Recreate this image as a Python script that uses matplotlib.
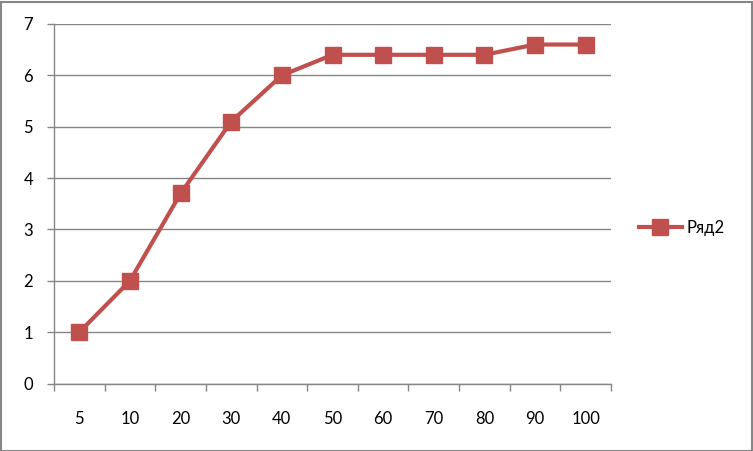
import matplotlib.pyplot as plt
import numpy as np
from matplotlib.patches import Rectangle

# datos
categorias = ['5', '10', '20', '30', '40', '50', '60', '70', '80', '90', '100']
valores = [1, 2, 3.7, 5.1, 6.0, 6.4, 6.4, 6.4, 6.4, 6.6, 6.6]
nombre_serie = 'Ряд2'

plt.rcParams['font.family'] = ['Lato', 'DejaVu Sans']

W, H = 753, 451
fig = plt.figure(figsize=(W / 100, H / 100), dpi=100)
ax = fig.add_axes([54 / W, 1 - 383.5 / H, (611 - 54) / W, (383.5 - 24) / H])

rojo = '#C0504D'
gris = '#868686'

x = np.arange(len(categorias))
ax.plot(x, valores, color=rojo, lw=3, marker='s', ms=11, mec=rojo, mfc=rojo,
        label=nombre_serie, solid_joinstyle='round')

ax.set_xlim(-0.5, len(categorias) - 0.5)
ax.set_ylim(0, 7)
ax.set_yticks(range(0, 8))
ax.grid(axis='y', color=gris, lw=1)
ax.set_axisbelow(True)

ax.set_xticks(x)
ax.set_xticklabels(categorias)
ax.set_xticks(np.arange(-0.5, len(categorias)), minor=True)
ax.tick_params(axis='x', which='major', length=0, pad=20, labelsize=12)
ax.tick_params(axis='x', which='minor', length=5, color=gris, width=1)
ax.tick_params(axis='y', length=5, color=gris, width=1, pad=10, labelsize=12)

for lado in ['top', 'right']:
    ax.spines[lado].set_visible(False)
for lado in ['left', 'bottom']:
    ax.spines[lado].set_color(gris)
    ax.spines[lado].set_linewidth(1)

ax.legend(loc='center left', bbox_to_anchor=(632 / W, 1 - 228 / H),
          bbox_transform=fig.transFigure, frameon=False, fontsize=12,
          handlelength=2.6, handletextpad=0.3, borderaxespad=0)

# borde exterior del gráfico
fig.patches.append(Rectangle((0.5 / W, 0.5 / H), 1 - 2 / W, 1 - 2 / H,
                             transform=fig.transFigure, fill=False,
                             ec=gris, lw=1.5))

fig.savefig('out.png', dpi=100)
